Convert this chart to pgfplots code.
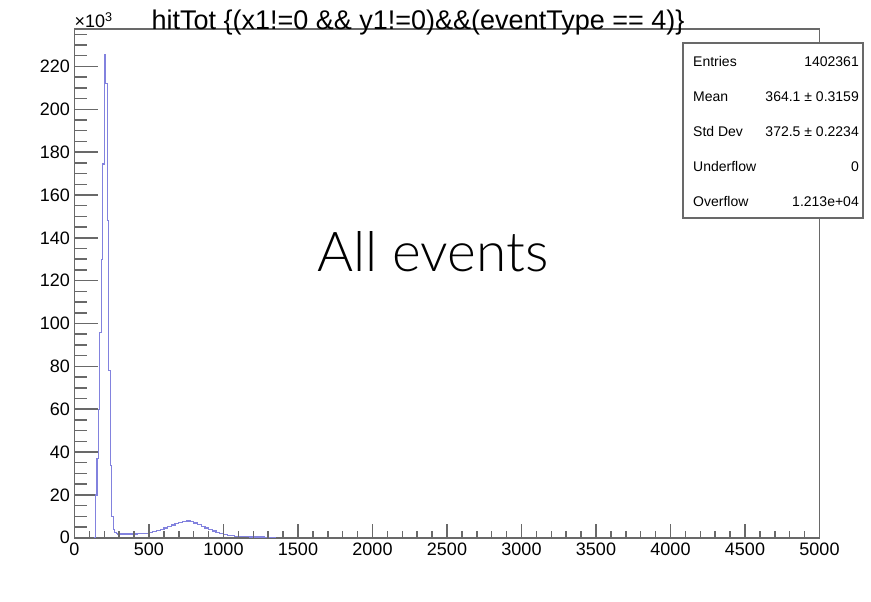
\documentclass[border=0pt]{standalone}
\usepackage{pgfplots}
\pgfplotsset{compat=1.18}
\usepackage{fontspec}
\setmainfont{Liberation Sans}
\newfontfamily\avfont{Lato Light}
\definecolor{histc}{RGB}{130,130,222}
\definecolor{framec}{RGB}{105,105,105}
\begin{document}
\begin{tikzpicture}[x=1pt,y=1pt]
\path[use as bounding box] (0,0) rectangle (871,602);
\pgfplotsset{
  common/.style={
    at={(50,30)}, anchor=south west, scale only axis,
    width=745pt, height=509pt,
    xmin=0, xmax=5000, ymin=0, ymax=237.6,
    tick align=inside,
    scaled ticks=false,
    clip=false,
    /pgf/number format/assume math mode=true,
    /pgf/number format/1000 sep={},
    ticklabel style={font=\fontsize{18}{18}\selectfont, text=black},
    every tick/.style={framec, line width=1.5pt},
  }
}
\begin{axis}[common,
  axis line style={framec, line width=1.6pt},
  xtick=\empty,
  ytick={0,20,...,220},
  minor ytick={5,10,...,235},
  ytick pos=left,
  major tick length=23pt, minor tick length=12pt,
  yticklabel style={xshift=-1pt},
]
\addplot[const plot, histc, line width=1.3pt] coordinates {
(130,0) (140,20) (150,37) (160,60) (170,95.7) (180,130) (190,174.5)
(200,225.5) (210,212) (220,148) (230,78) (240,33.6) (250,10) (260,4)
(270,2.6) (280,2.0) (290,1.8) (300,1.7) (325,1.7) (350,1.7) (375,1.7)
(400,1.8) (425,1.9) (450,2.0) (475,2.1) (500,2.4) (525,2.9) (550,3.4)
(575,4.0) (600,4.6) (625,5.3) (650,5.9) (675,6.6) (700,7.2) (725,7.7)
(750,7.8) (775,7.5) (800,6.9) (825,6.2) (850,5.4) (875,4.6) (900,3.8)
(925,3.1) (950,2.5) (975,2.0) (1000,1.6) (1025,1.2) (1050,0.9)
(1075,0.7) (1100,0.6) (1125,0.5) (1150,0.45) (1175,0.4) (1200,0.35)
(1225,0.3) (1250,0.3) (1275,0.25) (1300,0.2) (1325,0.2) (1350,0)
};
\node[anchor=south west, inner sep=0pt, yshift=1pt, font=\fontsize{18}{18}\selectfont]
  at (rel axis cs:0,1) {×10\textsuperscript{3}};
\end{axis}
\begin{axis}[common,
  axis line style={draw=none},
  ytick=\empty,
  xtick={0,500,...,5000},
  minor xtick={100,200,...,4900},
  xtick pos=left,
  major tick length=14pt, minor tick length=7pt,
  xticklabel style={yshift=-2pt},
]
\addplot[draw=none] coordinates {(0,0) (5000,0)};
\end{axis}
% title
\node[font=\fontsize{27}{27}\selectfont, anchor=base] at (418,572)
  {hitTot \{(x1!=0 \&\& y1!=0)\&\&(eventType == 4)\}};
% stats box
\draw[framec, line width=1.3pt, fill=white] (683,384) rectangle (863,559);
\begin{scope}[every node/.style={font=\fontsize{14}{14}\selectfont, inner sep=0pt}]
\node[anchor=west] at (693,540) {Entries};
\node[anchor=east] at (859,540) {1402361};
\node[anchor=west] at (693,505) {Mean};
\node[anchor=east] at (859,505) {364.1 ± 0.3159};
\node[anchor=west] at (693,470) {Std Dev};
\node[anchor=east] at (859,470) {372.5 ± 0.2234};
\node[anchor=west] at (693,435) {Underflow};
\node[anchor=east] at (859,435) {0};
\node[anchor=west] at (693,400) {Overflow};
\node[anchor=east] at (859,400) {1.213e+04};
\end{scope}
\node[font=\avfont\fontsize{55}{55}\selectfont] at (433,350) {All events};
\end{tikzpicture}
\end{document}
